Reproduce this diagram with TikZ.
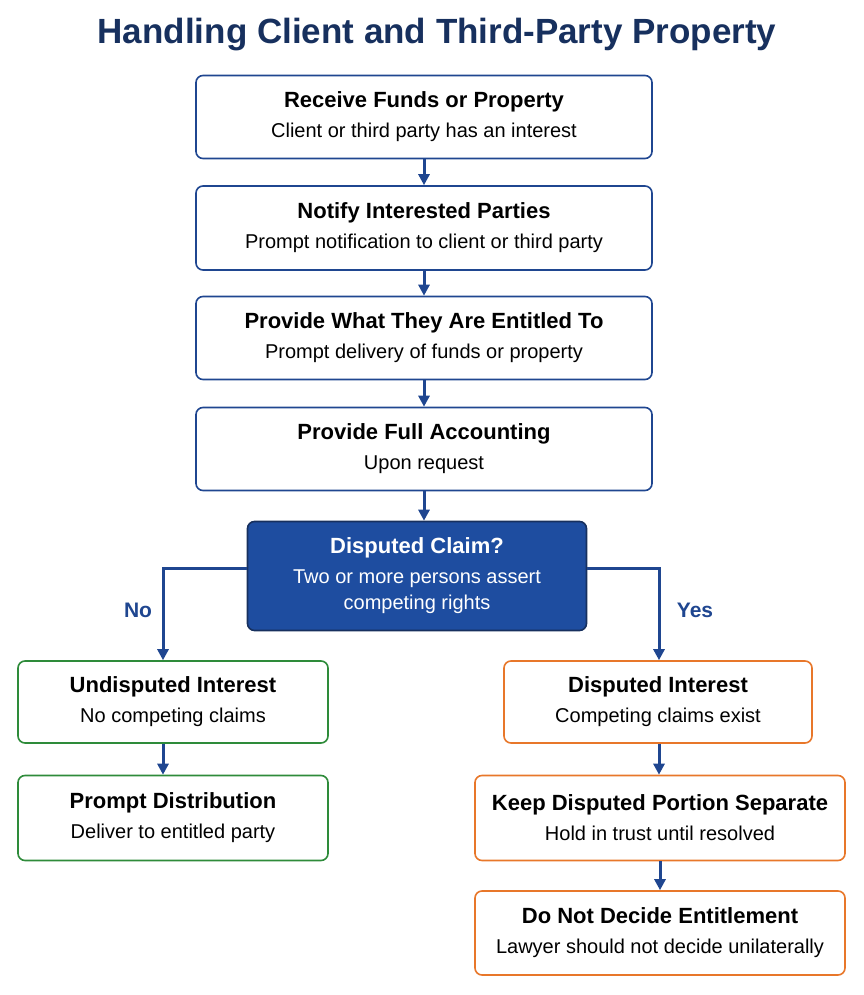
\documentclass[tikz,border=0pt]{standalone}
\usepackage{fontspec}
\setmainfont{Liberation Sans}
\usetikzlibrary{arrows.meta}
\definecolor{navy}{HTML}{17305E}
\definecolor{boxblue}{HTML}{1F4690}
\definecolor{fillblue}{HTML}{1E4DA0}
\definecolor{okgreen}{HTML}{2E8B3A}
\definecolor{warnorange}{HTML}{E8772A}
\tikzset{st/.style = {rectangle, rounded corners=7pt, line width=1.6pt, draw=boxblue, fill=white, align=center,
                      inner sep=0pt, font=\fontsize{20}{30}\selectfont},
         dc/.style = {st, draw=navy, fill=fillblue, text=white},
         gr/.style = {st, draw=okgreen},
         or/.style = {st, draw=warnorange},
         ar/.style = {-{Triangle[length=11pt,width=11pt]}, line width=3pt, draw=boxblue},
         lb/.style = {text=boxblue, font=\fontsize{21}{21}\selectfont\bfseries}}
\newcommand{\hd}[1]{{\fontsize{22}{30}\selectfont\bfseries #1}}

\begin{document}
\begin{tikzpicture}[x=1pt, y=-1pt]
    \useasboundingbox (0,0) rectangle (863,995);
    \node[text=navy, font=\fontsize{35}{35}\selectfont\bfseries] (title) at (437,35) {Handling Client and Third-Party Property};
    \node[st, minimum width=456pt, minimum height=83pt] (recv) at (424,117) {\hd{Receive Funds or Property}\\Client or third party has an interest};
    \node[st, minimum width=456pt, minimum height=84pt] (noti) at (424,228) {\hd{Notify Interested Parties}\\Prompt notification to client or third party};
    \node[st, minimum width=456pt, minimum height=83pt] (prov) at (424,338) {\hd{Provide What They Are Entitled To}\\Prompt delivery of funds or property};
    \node[st, minimum width=456pt, minimum height=83pt] (acct) at (424,449) {\hd{Provide Full Accounting}\\Upon request};
    \node[dc, minimum width=339pt, minimum height=109pt] (disp) at (417,576) {\hd{Disputed Claim?}\\Two or more persons assert\\[-4pt]competing rights};
    \node[gr, minimum width=310pt, minimum height=82pt] (undi) at (173,702) {\hd{Undisputed Interest}\\No competing claims};
    \node[gr, minimum width=310pt, minimum height=85pt] (dist) at (173,818) {\hd{Prompt Distribution}\\Deliver to entitled party};
    \node[or, minimum width=308pt, minimum height=82pt] (dint) at (658,702) {\hd{Disputed Interest}\\Competing claims exist};
    \node[or, minimum width=370pt, minimum height=85pt] (keep) at (660,818) {\hd{Keep Disputed Portion Separate}\\Hold in trust until resolved};
    \node[or, minimum width=370pt, minimum height=84pt] (dont) at (660,933) {\hd{Do Not Decide Entitlement}\\Lawyer should not decide unilaterally};
    \node[lb] (no) at (138,610) {No};
    \node[lb] (yes) at (695,610) {Yes};
    \coordinate (nl) at (163,568);
    \coordinate (nr) at (659,568);
    \draw[ar] (recv) -- (noti);
    \draw[ar] (noti) -- (prov);
    \draw[ar] (prov) -- (acct);
    \draw[ar] (acct.south) -- (acct.south |- disp.north);
    \draw[ar] (disp.west |- nl) -- (nl) -- (nl |- undi.north);
    \draw[ar] (disp.east |- nr) -- (nr) -- (nr |- dint.north);
    \draw[ar] (undi.south -| nl) -- (dist.north -| nl);
    \draw[ar] (dint.south -| nr) -- (keep.north -| nr);
    \draw[ar] (keep) -- (dont);
\end{tikzpicture}
\end{document}
